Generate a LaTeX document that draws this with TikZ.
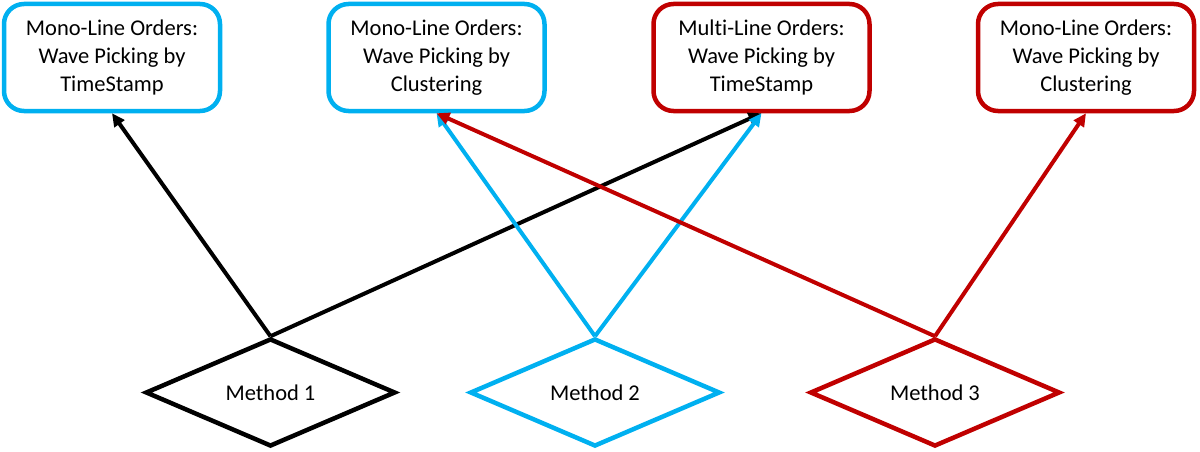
\documentclass[tikz,border=0pt]{standalone}
\usepackage{fontspec}
\setmainfont{Carlito}[Ligatures={NoCommon}]
\usetikzlibrary{shapes.geometric,arrows.meta}
\definecolor{cblue}{HTML}{00B0F0}
\definecolor{cred}{HTML}{C00000}
\tikzset{
  box/.style={draw, line width=4.5pt, rounded corners=20pt, minimum width=216pt, minimum height=107pt,
    align=center, inner sep=0pt, font=\fontsize{22.5pt}{28pt}\selectfont, fill=white, text=black},
  meth/.style={draw, diamond, line width=4.5pt, minimum width=250pt, minimum height=108pt, inner sep=0pt,
    font=\fontsize{22.5pt}{26pt}\selectfont, fill=white, text=black},
  conn/.style={line width=4pt, -{Triangle[length=13pt,width=12pt]}}
}
\begin{document}
\begin{tikzpicture}[x=1pt,y=-1pt]
\useasboundingbox (0,0) rectangle (1200,452);
\node[box, draw=cblue] (b1) at (112,57.5) {Mono-Line Orders:\\Wave Picking by\\TimeStamp};
\node[box, draw=cblue] (b2) at (436.5,57.5) {Mono-Line Orders:\\Wave Picking by\\Clustering};
\node[box, draw=cred] (b3) at (761.5,57.5) {Multi-Line Orders:\\Wave Picking by\\TimeStamp};
\node[box, draw=cred] (b4) at (1086,57.5) {Mono-Line Orders:\\Wave Picking by\\Clustering};
\node[meth, draw=black] (m1) at (270.5,392.5) {Method 1};
\node[meth, draw=cblue] (m2) at (595,392.5) {Method 2};
\node[meth, draw=cred] (m3) at (935,392.5) {Method 3};
\draw[conn, black] (m1.north) -- (b1.south);
\draw[conn, black] (m1.north) -- (b3.south);
\draw[conn, cblue] (m2.north) -- (b2.south);
\draw[conn, cblue] (m2.north) -- (b3.south);
\draw[conn, cred] (m3.north) -- (b2.south);
\draw[conn, cred] (m3.north) -- (b4.south);
\end{tikzpicture}
\end{document}
